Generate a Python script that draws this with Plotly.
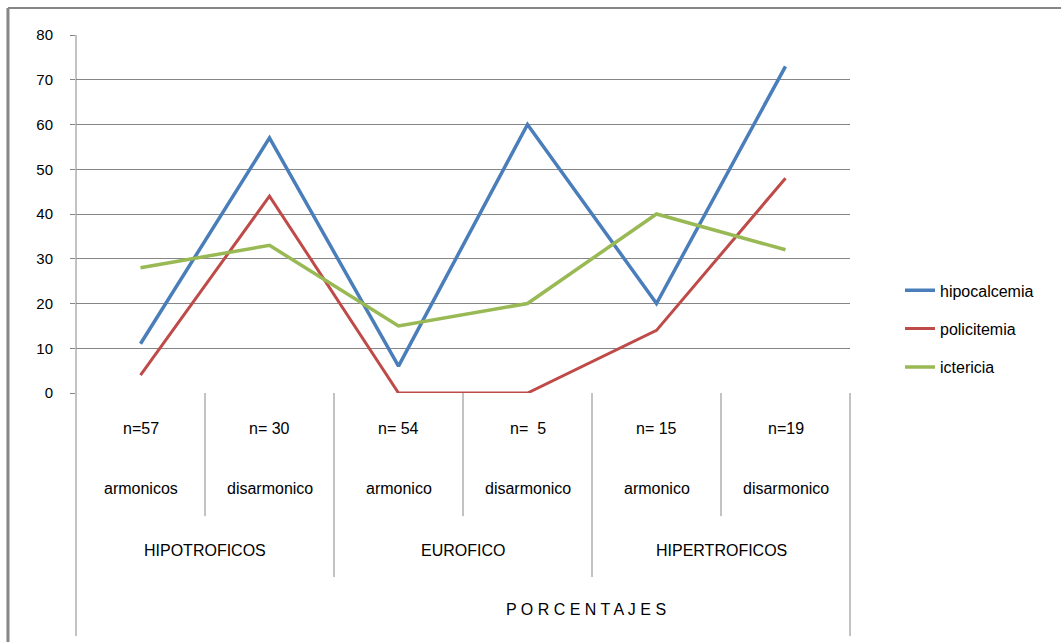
import plotly.graph_objects as go

# Subgroups (x categories) and their headers
subgroups = ["armonicos", "disarmonico", "armonico", "disarmonico", "armonico", "disarmonico"]
sample_sizes = ["n=57", "n= 30", "n= 54", "n=  5", "n= 15", "n=19"]
groups = ["HIPOTROFICOS", "EUROFICO", "HIPERTROFICOS"]
axis_title = "P O R C E N T A J E S"

# Percentages per subgroup
hipocalcemia = [11, 57, 6, 60, 20, 73]
policitemia = [4, 44, 0, 0, 14, 48]
ictericia = [28, 33, 15, 20, 40, 32]

y_ticks = [0, 10, 20, 30, 40, 50, 60, 70, 80]

GRID = "#868686"
FONT = "Liberation Sans, Arial, sans-serif"

x = list(range(len(subgroups)))

fig = go.Figure()
series = [
    ("hipocalcemia", hipocalcemia, "#4A7EBB", 3.5),
    ("policitemia", policitemia, "#BE4B48", 3),
    ("ictericia", ictericia, "#98B954", 3.5),
]
for name, vals, color, w in series:
    fig.add_trace(go.Scatter(
        x=x, y=vals, name=name, mode="lines",
        line=dict(color=color, width=w),
        legendgroup=name,
    ))

shapes = []
annotations = []

# Row positions below the plot (paper units; plot area spans 0..1)
row_n, row_sub, row_grp, row_title = -0.098, -0.268, -0.439, -0.606
sub_bottom, grp_bottom, frame_bottom = -0.344, -0.514, -0.679


def label(xv, yv, text, xref="x"):
    return dict(x=xv, y=yv, xref=xref, yref="paper", text=text, showarrow=False,
                xanchor="center", yanchor="middle", font=dict(size=16))


for i, (n, s) in enumerate(zip(sample_sizes, subgroups)):
    annotations.append(label(i, row_n, n))
    annotations.append(label(i, row_sub, s))

# Separators between subgroups inside a group, and between groups
for i in range(len(subgroups) - 1):
    bottom = grp_bottom if i % 2 == 1 else sub_bottom
    shapes.append(dict(type="line", xref="x", yref="paper", x0=i + 0.5, x1=i + 0.5,
                       y0=0, y1=bottom, line=dict(color=GRID, width=1)))

for g, name in enumerate(groups):
    annotations.append(label(2 * g + 0.5, row_grp, name))

annotations.append(label(3.45, row_title, axis_title))

# Outer edges of the category table
shapes.append(dict(type="line", xref="paper", yref="paper", x0=0, x1=0, y0=1, y1=frame_bottom,
                   line=dict(color=GRID, width=1)))
shapes.append(dict(type="line", xref="paper", yref="paper", x0=1, x1=1, y0=0, y1=frame_bottom,
                   line=dict(color=GRID, width=1)))

# Chart frame (top and left edges)
shapes.append(dict(type="line", xref="paper", yref="paper", x0=-0.0879, x1=1.28, y0=1.0754, y1=1.0754,
                   line=dict(color=GRID, width=2)))
shapes.append(dict(type="line", xref="paper", yref="paper", x0=-0.0879, x1=-0.0879, y0=1.0754, y1=-0.72,
                   line=dict(color=GRID, width=3)))

fig.update_layout(
    width=1061, height=642,
    margin=dict(l=76, r=211, t=35, b=249),
    paper_bgcolor="white", plot_bgcolor="white",
    font=dict(family=FONT, color="black", size=16),
    shapes=shapes, annotations=annotations,
    showlegend=True,
    legend=dict(x=1.0646, xanchor="left", y=0.179, yanchor="middle",
                font=dict(size=16), tracegroupgap=14.5, traceorder="grouped",
                bgcolor="rgba(0,0,0,0)"),
    xaxis=dict(range=[-0.5, len(subgroups) - 0.5], showgrid=False, zeroline=False,
               showticklabels=False, showline=False, fixedrange=True),
    yaxis=dict(range=[0, 80], tickvals=y_ticks, showgrid=True, gridcolor=GRID, gridwidth=1,
               zeroline=False, showline=False, ticks="outside", ticklen=5, tickcolor=GRID,
               tickfont=dict(size=15), ticklabelstandoff=14),
)

fig.write_html("out.html")
